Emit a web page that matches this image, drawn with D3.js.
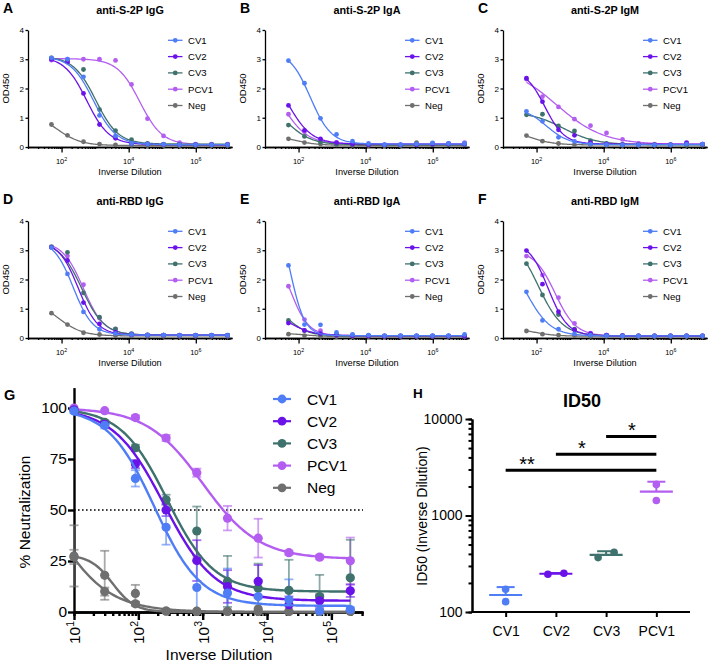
<!DOCTYPE html>
<html><head><meta charset="utf-8">
<script src="https://cdn.jsdelivr.net/npm/d3@7"></script>
<style>body{margin:0;background:#fff}svg{display:block}</style>
</head><body><svg id="c" width="710" height="663"></svg>
<script>
// ---------------- DATA ----------------
const seriesNames = ["CV1","CV2","CV3","PCV1","Neg"];
const seriesColors = ["#4f7df5","#6a12e8","#3f716d","#b35ef0","#6f6f6f"];

const elisaDilutions = [50,150,450,1350,4050,12150,36450,109350,328050,984150,2952450,8857350];
const elisaTitles = ["anti-S-2P IgG","anti-S-2P IgA","anti-S-2P IgM","anti-RBD IgG","anti-RBD IgA","anti-RBD IgM"];
const elisaLetters = ["A","B","C","D","E","F"];
const elisaXTicks = [1e2,1e4,1e6];
const elisaXTickExp = ["2","4","6"];
const odTicks = [0,1,2,3,4];

// OD450 values, rows = CV1, CV2, CV3, PCV1, Neg
const s2pIgG = [
  [3.05,3.0,2.4,1.08,0.38,0.12,0.1,0.09,0.08,0.08,0.08,0.08],
  [3.0,2.9,1.83,0.77,0.3,0.12,0.1,0.09,0.08,0.08,0.08,0.08],
  [3.05,2.95,2.65,1.28,0.56,0.25,0.12,0.1,0.09,0.08,0.08,0.08],
  [2.97,3.0,3.0,3.0,2.96,2.14,0.97,0.38,0.15,0.1,0.1,0.1],
  [0.77,0.4,0.18,0.1,0.07,0.06,0.05,0.05,0.05,0.05,0.05,0.05]];
const s2pIgA = [
  [2.95,2.18,0.98,0.43,0.2,0.12,0.08,0.08,0.1,0.14,0.12,0.12],
  [1.42,0.57,0.28,0.15,0.1,0.08,0.07,0.07,0.08,0.1,0.1,0.1],
  [0.75,0.36,0.17,0.1,0.08,0.07,0.06,0.06,0.07,0.08,0.08,0.08],
  [1.12,0.52,0.25,0.15,0.1,0.08,0.07,0.07,0.08,0.1,0.12,0.15],
  [0.28,0.15,0.1,0.07,0.06,0.05,0.05,0.05,0.15,0.12,0.1,0.1]];
const s2pIgM = [
  [1.22,0.88,0.33,0.19,0.1,0.08,0.07,0.07,0.07,0.07,0.1,0.1],
  [2.35,1.55,0.59,0.4,0.15,0.1,0.08,0.07,0.07,0.07,0.15,0.1],
  [1.1,1.12,0.72,0.55,0.22,0.12,0.09,0.08,0.08,0.08,0.08,0.08],
  [2.32,1.72,1.37,0.95,0.73,0.48,0.26,0.12,0.1,0.08,0.12,0.1],
  [0.39,0.2,0.12,0.08,0.07,0.06,0.06,0.06,0.06,0.06,0.06,0.06]];
const rbdIgG = [
  [3.09,2.19,0.89,0.3,0.15,0.12,0.1,0.1,0.09,0.09,0.09,0.09],
  [3.1,2.65,1.21,0.48,0.2,0.12,0.1,0.1,0.09,0.09,0.09,0.09],
  [3.12,2.93,1.54,0.71,0.31,0.15,0.11,0.1,0.1,0.1,0.1,0.1],
  [3.1,2.8,1.82,0.68,0.3,0.14,0.11,0.1,0.1,0.1,0.1,0.1],
  [0.85,0.46,0.18,0.12,0.08,0.07,0.06,0.06,0.06,0.06,0.06,0.06]];
const rbdIgA = [
  [2.48,0.46,0.45,0.19,0.12,0.1,0.08,0.08,0.08,0.08,0.08,0.12],
  [0.51,0.26,0.15,0.1,0.08,0.07,0.06,0.06,0.06,0.06,0.06,0.06],
  [0.6,0.25,0.12,0.09,0.08,0.07,0.06,0.06,0.06,0.06,0.06,0.06],
  [1.77,0.63,0.25,0.12,0.08,0.07,0.07,0.07,0.07,0.07,0.07,0.07],
  [0.13,0.08,0.06,0.05,0.05,0.05,0.05,0.05,0.05,0.05,0.05,0.05]];
const rbdIgM = [
  [1.58,0.6,0.3,0.14,0.1,0.08,0.07,0.07,0.07,0.07,0.07,0.07],
  [2.99,1.84,0.9,0.28,0.15,0.1,0.08,0.07,0.07,0.07,0.07,0.07],
  [2.54,1.47,0.8,0.3,0.12,0.09,0.08,0.07,0.07,0.07,0.07,0.07],
  [2.8,2.15,1.38,0.5,0.17,0.1,0.08,0.07,0.07,0.07,0.07,0.07],
  [0.24,0.13,0.1,0.08,0.06,0.06,0.05,0.05,0.05,0.05,0.05,0.05]];

// fitted 4PL parameters [bottom, top, logEC50, hill]
const s2pIgGFit = [[0.08,3.1,2.95,1.3],[0.08,3.1,2.75,1.3],[0.1,3.1,3.02,1.3],[0.08,3.02,4.33,1.3],[0.05,1.2,1.85,1.2]];
const s2pIgAFit = [[0.1,3.3,2.35,1.4],[0.1,3.0,1.65,1.2],[0.08,1.5,1.7,1.2],[0.1,2.6,1.55,1.2],[0.06,0.35,2.0,1.5]];
const s2pIgMFit = [[0.08,1.35,2.3,1.3],[0.1,2.65,2.25,1.5],[0.08,1.2,2.8,0.9],[0.08,2.8,2.6,0.62],[0.07,0.6,1.8,1.2]];
const rbdIgGFit = [[0.1,3.35,2.35,1.5],[0.1,3.3,2.5,1.5],[0.1,3.3,2.6,1.3],[0.1,3.3,2.65,1.4],[0.07,1.3,1.9,1.2]];
const rbdIgAFit = [[0.08,4.5,1.75,2.0],[0.08,1.0,1.7,1.2],[0.08,1.2,1.7,1.5],[0.08,3.2,1.75,1.6],[0.05,0.16,2.2,1.5]];
const rbdIgMFit = [[0.07,3.0,1.7,1.2],[0.07,3.3,2.35,1.5],[0.07,3.5,2.05,1.2],[0.07,3.0,2.55,1.4],[0.06,0.4,1.8,1.2]];

// Neutralization (panel G)
const neutDilutions = [10,30,90,270,810,2430,7290,21870,65610,196830];
const neutTicks = [10,100,1000,10000,100000];
const neutTickExp = ["1","2","3","4","5"];
const neutYTicks = [0,25,50,75,100];
const neutCV1 = [98.5,91.5,65.5,41.5,12,9.3,7.6,6,0.5,1.2];
const neutCV1Err = [1,1.5,4,8.5,13,12,8,10,1,1];
const neutCV2 = [99,92,72.5,50,25.2,12.5,15,3.6,5.5,10.4];
const neutCV2Err = [0.5,1,2,3,10,8,8,4,3,3];
const neutCV3 = [99,93,80.5,55,39.7,15,11.7,10.6,7.6,16.8];
const neutCV3Err = [0.5,1,1.5,2.5,12,12.5,12,15,10.6,18.6];
const neutPCV1 = [100,98.7,95.3,85.3,68.3,46,36.2,29.1,26.9,25.1];
const neutPCV1Err = [0,0.5,1,1.5,2,6,9.5,1,1,11.4];
const neutNegA = [27.5,18,4,0.5,0.4,0.3,1.5,0.3,0.3,0.5];
const neutNegAErr = [15,12,1,0.5,0.5,0.5,0.5,0.5,0.5,0.5];
const neutNegB = [27,10,9.1,0.4,0.3,0.3,0.3,0.3,0.3,0.3];
const neutNegBErr = [3.5,2,4.2,0.5,0.5,0.5,0.5,0.5,0.5,0.5];
const neutFits = {CV1:[3,100,2.25,1.2],CV2:[5.5,100,2.4,1.1],CV3:[10,100,2.45,1.2],PCV1:[26,100,3.0,1.0],NegA:[0,28,1.6,2.5],NegB:[0,90,0.62,1.0]};

// ID50 (panel H)
const id50Groups = ["CV1","CV2","CV3","PCV1"];
const id50Values = [[172,128],[246,252],[366,416],[2100,1430]];
const id50YTicks = [100,1000,10000];
const sigPairs = [[0,3],[1,3],[2,3]];
const sigLabels = ["**","*","*"];
const sigLevels = [2950,4300,6600];

// ---------------- DRAW ----------------
const FONT = '"Liberation Sans", Arial, Helvetica, sans-serif';
const svg = d3.select("#c").attr("font-family", FONT);
const colorOf = n => seriesColors[seriesNames.indexOf(n)];

function fourPL(p, lx){ const [b,t,c,h]=p; return b + (t-b)/(1+Math.pow(10,(lx-c)*h)); }
function fitLine(x, y, p, xmin, xmax){
  const n=150, l0=Math.log10(xmin), l1=Math.log10(xmax);
  const pts=d3.range(n+1).map(i=>{const lx=l0+(l1-l0)*i/n; return [x(Math.pow(10,lx)), y(fourPL(p,lx))];});
  return d3.line()(pts);
}
function styleAxis(sel, fs, w){
  sel.attr("font-family", FONT).attr("font-size", fs);
  sel.select(".domain").attr("stroke","#000").attr("stroke-width",w);
  sel.selectAll(".tick line").attr("stroke","#000").attr("stroke-width",w);
  sel.selectAll(".tick text").attr("fill","#000");
}
function minorLogTicks(lo, hi){
  const out=[];
  for(let e=Math.floor(Math.log10(lo)); e<=Math.ceil(Math.log10(hi)); e++)
    for(let m=1;m<10;m++){const v=m*Math.pow(10,e); if(v>=lo*0.999 && v<=hi) out.push(v);}
  return out;
}

// ---- Panels A-F ----
const elisaData = [s2pIgG,s2pIgA,s2pIgM,rbdIgG,rbdIgA,rbdIgM];
const elisaFits = [s2pIgGFit,s2pIgAFit,s2pIgMFit,rbdIgGFit,rbdIgAFit,rbdIgMFit];
const colX = [28,265,503], rowY0 = [147,338], rowTop = [30,221];
const pw = 204, xMax = 1.2e7;

elisaData.forEach((data,k)=>{
  const col=k%3, row=Math.floor(k/3);
  const ax=colX[col], y0=rowY0[row], yt=rowTop[row];
  const x=d3.scaleLog().domain([10,xMax]).range([ax,ax+pw]);
  const y=d3.scaleLinear().domain([0,4]).range([y0,yt]);
  const g=svg.append("g");

  // letter + title
  g.append("text").attr("x",ax-25).attr("y",yt-17.5).attr("font-size",14).attr("font-weight","bold").text(elisaLetters[k]);
  g.append("text").attr("x",ax+pw/2).attr("y",yt-16).attr("text-anchor","middle").attr("font-size",10.8).attr("font-weight","bold").text(elisaTitles[k]);

  // axes
  g.append("g").attr("transform",`translate(0,${y0})`)
    .call(d3.axisBottom(x).tickValues(minorLogTicks(10,xMax)).tickSize(2).tickFormat("").tickSizeOuter(0))
    .call(s=>styleAxis(s,8,1.3));
  g.append("g").attr("transform",`translate(0,${y0})`)
    .call(d3.axisBottom(x).tickValues(elisaXTicks).tickSize(5.5).tickFormat("").tickSizeOuter(0))
    .call(s=>styleAxis(s,8,1.3));
  g.append("g").attr("transform",`translate(${ax},0)`)
    .call(d3.axisLeft(y).tickValues(odTicks).tickSize(2.5).tickPadding(1.5).tickFormat(d3.format("d")).tickSizeOuter(0))
    .call(s=>styleAxis(s,8,1.3));
  elisaXTicks.forEach((v,i)=>{
    const t=g.append("text").attr("x",x(v)).attr("y",y0+16.5).attr("text-anchor","middle").attr("font-size",7.5);
    t.append("tspan").text("10");
    t.append("tspan").attr("font-size",5.3).attr("dy",-3).text(elisaXTickExp[i]);
  });
  g.append("text").attr("x",ax+pw/2).attr("y",y0+28).attr("text-anchor","middle").attr("font-size",9.2).text("Inverse Dilution");
  g.append("text").attr("transform",`translate(${ax-19},${(y0+yt)/2}) rotate(-90)`).attr("text-anchor","middle").attr("font-size",9.5).text("OD450");

  // curves + points
  for(let s=seriesNames.length-1;s>=0;s--){
    const c=seriesColors[s];
    g.append("path").attr("d",fitLine(x,y,elisaFits[k][s],elisaDilutions[0],elisaDilutions[elisaDilutions.length-1]))
      .attr("fill","none").attr("stroke",c).attr("stroke-width",1.3);
    g.selectAll(null).data(data[s]).join("circle")
      .attr("cx",(d,i)=>x(elisaDilutions[i])).attr("cy",d=>y(d)).attr("r",2.4).attr("fill",c);
  }

  // legend
  seriesNames.forEach((n,s)=>{
    const ly=yt+10.3+s*16.3, lx=ax+140;
    g.append("line").attr("x1",lx).attr("x2",lx+14.5).attr("y1",ly).attr("y2",ly).attr("stroke",seriesColors[s]).attr("stroke-width",1.3);
    g.append("circle").attr("cx",lx+7.25).attr("cy",ly).attr("r",2.4).attr("fill",seriesColors[s]);
    g.append("text").attr("x",lx+20).attr("y",ly+3.4).attr("font-size",9.6).text(n);
  });
});

// ---- Panel G ----
(function(){
  const g=svg.append("g");
  const x=d3.scaleLog().domain([10,3.1e5]).range([74,363]);
  const y=d3.scaleLinear().domain([0,110]).range([612,387.6]);
  g.append("text").attr("x",4).attr("y",400).attr("font-size",14.5).attr("font-weight","bold").text("G");

  // dotted 50% line
  g.append("line").attr("x1",x(10)).attr("x2",x(3.1e5)).attr("y1",y(50)).attr("y2",y(50))
    .attr("stroke","#000").attr("stroke-width",1.6).attr("stroke-dasharray","1.6,2.4");

  g.append("g").attr("transform","translate(0,612)")
    .call(d3.axisBottom(x).tickValues(minorLogTicks(10,3.1e5)).tickSize(4).tickFormat("").tickSizeOuter(0))
    .call(s=>styleAxis(s,15.5,2.4));
  g.append("g").attr("transform","translate(0,612)")
    .call(d3.axisBottom(x).tickValues(neutTicks).tickSize(8).tickFormat("").tickSizeOuter(0))
    .call(s=>styleAxis(s,15.5,2.4));
  g.append("g").attr("transform","translate(74,0)")
    .call(d3.axisLeft(y).tickValues(neutYTicks).tickSize(6).tickPadding(1).tickSizeOuter(0))
    .call(s=>styleAxis(s,15.5,2.4));
  neutTicks.forEach((v,i)=>{
    const t=g.append("text").attr("transform",`translate(${x(v)+6},621) rotate(-90)`).attr("text-anchor","end").attr("font-size",15.5);
    t.append("tspan").text("10");
    t.append("tspan").attr("font-size",10.5).attr("dy",-6.5).text(neutTickExp[i]);
  });
  g.append("text").attr("x",219).attr("y",660).attr("text-anchor","middle").attr("font-size",15.5).text("Inverse Dilution");
  g.append("text").attr("transform","translate(30,512) rotate(-90)").attr("text-anchor","middle").attr("font-size",15.5).text("% Neutralization");

  const series=[
    {c:colorOf("Neg"),v:neutNegA,e:neutNegAErr,f:neutFits.NegA},
    {c:colorOf("Neg"),v:neutNegB,e:neutNegBErr,f:neutFits.NegB},
    {c:colorOf("PCV1"),v:neutPCV1,e:neutPCV1Err,f:neutFits.PCV1},
    {c:colorOf("CV3"),v:neutCV3,e:neutCV3Err,f:neutFits.CV3},
    {c:colorOf("CV2"),v:neutCV2,e:neutCV2Err,f:neutFits.CV2},
    {c:colorOf("CV1"),v:neutCV1,e:neutCV1Err,f:neutFits.CV1}];
  series.forEach(s=>{
    const eb=g.append("g").attr("stroke",s.c).attr("stroke-opacity",0.6).attr("stroke-width",1.8);
    s.v.forEach((v,i)=>{
      const e=s.e[i]; if(e<1) return;
      const cx=x(neutDilutions[i]), lo=Math.max(0,v-e), hi=v+e;
      eb.append("line").attr("x1",cx).attr("x2",cx).attr("y1",y(lo)).attr("y2",y(hi));
      eb.append("line").attr("x1",cx-4.5).attr("x2",cx+4.5).attr("y1",y(hi)).attr("y2",y(hi));
      if(v-e>0) eb.append("line").attr("x1",cx-4.5).attr("x2",cx+4.5).attr("y1",y(lo)).attr("y2",y(lo));
    });
  });
  series.forEach(s=>{
    g.append("path").attr("d",fitLine(x,y,s.f,neutDilutions[0],neutDilutions[neutDilutions.length-1]))
      .attr("fill","none").attr("stroke",s.c).attr("stroke-width",2.4);
    g.selectAll(null).data(s.v).join("circle")
      .attr("cx",(d,i)=>x(neutDilutions[i])).attr("cy",d=>y(d)).attr("r",4.6).attr("fill",s.c);
  });

  seriesNames.forEach((n,i)=>{
    const ly=399+i*22.2;
    g.append("line").attr("x1",273).attr("x2",291).attr("y1",ly).attr("y2",ly).attr("stroke",seriesColors[i]).attr("stroke-width",2.2);
    g.append("circle").attr("cx",282).attr("cy",ly).attr("r",4.4).attr("fill",seriesColors[i]);
    g.append("text").attr("x",307).attr("y",ly+5.6).attr("font-size",15.5).text(n);
  });
})();

// ---- Panel H ----
(function(){
  const g=svg.append("g");
  const x=d3.scalePoint().domain(id50Groups).range([472,690]).padding(0.67);
  const y=d3.scaleLog().domain([100,10000]).range([612,419]);
  g.append("text").attr("x",413).attr("y",398).attr("font-size",13.5).attr("font-weight","bold").text("H");
  g.append("text").attr("x",582).attr("y",407).attr("text-anchor","middle").attr("font-size",18).attr("font-weight","bold").text("ID50");

  g.append("g").attr("transform","translate(472,0)")
    .call(d3.axisLeft(y).tickValues(minorLogTicks(100,10000)).tickSize(3.5).tickFormat("").tickSizeOuter(0))
    .call(s=>styleAxis(s,14,2));
  g.append("g").attr("transform","translate(472,0)")
    .call(d3.axisLeft(y).tickValues(id50YTicks).tickSize(6.5).tickPadding(3).tickFormat(d3.format("d")).tickSizeOuter(0))
    .call(s=>styleAxis(s,14,2));
  g.append("path").attr("d","M472,612H690").attr("stroke","#000").attr("stroke-width",2);
  g.append("g").attr("transform","translate(0,612)")
    .call(d3.axisBottom(x).tickSize(5).tickPadding(9).tickSizeOuter(0))
    .call(s=>{styleAxis(s,14,2); s.select(".domain").remove();});
  g.append("text").attr("transform","translate(427,516) rotate(-90)").attr("text-anchor","middle").attr("font-size",14).text("ID50 (Inverse Dilution)");

  id50Groups.forEach((grp,i)=>{
    const c=colorOf(grp), vals=id50Values[i], cx=x(grp);
    const m=d3.mean(vals), sd=d3.deviation(vals);
    const close = d3.max(vals)/d3.min(vals) < 1.3;
    g.append("line").attr("x1",cx).attr("x2",cx).attr("y1",y(m)).attr("y2",y(m+sd)).attr("stroke",c).attr("stroke-width",2);
    g.append("line").attr("x1",cx-9).attr("x2",cx+9).attr("y1",y(m+sd)).attr("y2",y(m+sd)).attr("stroke",c).attr("stroke-width",2);
    vals.forEach((v,j)=>{
      const off = close ? (j===0?-8:8) : 0;
      g.append("circle").attr("cx",cx+off).attr("cy",y(v)).attr("r",3.8).attr("fill",c);
    });
    g.append("line").attr("x1",cx-16.5).attr("x2",cx+16.5).attr("y1",y(m)).attr("y2",y(m)).attr("stroke",c).attr("stroke-width",2.2);
  });

  sigPairs.forEach((p,i)=>{
    const x1=x(id50Groups[p[0]]), x2=x(id50Groups[p[1]]), yy=y(sigLevels[i]);
    g.append("line").attr("x1",x1).attr("x2",x2).attr("y1",yy).attr("y2",yy).attr("stroke","#000").attr("stroke-width",3);
  });
  const starX=[527,582,632];
  sigLabels.forEach((lab,i)=>{
    g.append("text").attr("x",starX[i]).attr("y",y(sigLevels[i])+1).attr("text-anchor","middle").attr("font-size",20).text(lab);
  });
})();
</script></body></html>
